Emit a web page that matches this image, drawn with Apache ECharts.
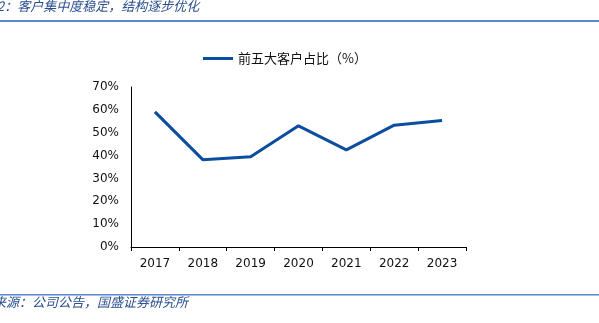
<!DOCTYPE html>
<html>
<head>
<meta charset="utf-8">
<script src="https://cdn.jsdelivr.net/npm/echarts@6/dist/echarts.min.js"></script>
<style>
  html, body { margin: 0; padding: 0; background: #fff; }
  #chart { width: 599px; height: 323px; }
</style>
</head>
<body>
<div id="chart"></div>
<script>
// Share of revenue from the five largest customers, by year
const years = ['2017', '2018', '2019', '2020', '2021', '2022', '2023'];
const top5Share = [59.1, 38.2, 39.5, 53.0, 42.5, 53.3, 55.3];
const yTicks = { min: 0, max: 70, interval: 10 };
const seriesName = '前五大客户占比（%）';
const titleText = '2：客户集中度稳定，结构逐步优化';
const sourceText = '来源：公司公告，国盛证券研究所';

const chart = echarts.init(document.getElementById('chart'), null, { renderer: 'canvas' });
const font = '"Noto Sans CJK SC", "Noto Sans", sans-serif';
const numFont = '"DejaVu Sans", sans-serif';
const ruleColor = '#5b86cf';
const noteColor = '#2a4f8f';

chart.setOption({
  animation: false,
  textStyle: { fontFamily: font },
  graphic: [
    { type: 'text', left: -3, top: 0, style: { text: titleText, fill: noteColor, font: 'italic 13px ' + font } },
    { type: 'rect', shape: { x: 0, y: 20, width: 599, height: 2 }, style: { fill: ruleColor } },
    { type: 'rect', shape: { x: 0, y: 294, width: 599, height: 1.5 }, style: { fill: ruleColor } },
    { type: 'text', left: -7, top: 296, style: { text: sourceText, fill: noteColor, font: 'italic 13px ' + font } }
  ],
  legend: {
    top: 47,
    left: 198,
    itemWidth: 30,
    itemHeight: 3,
    itemGap: 6,
    icon: 'rect',
    textStyle: { fontSize: 13, color: '#111', fontFamily: font },
    data: [seriesName]
  },
  grid: { left: 131, right: 133, top: 87, bottom: 76, containLabel: false },
  xAxis: {
    type: 'category',
    data: years,
    boundaryGap: true,
    axisLine: { lineStyle: { color: '#000', width: 1 } },
    axisTick: { show: true, alignWithLabel: false, length: 4, lineStyle: { color: '#000' } },
    axisLabel: { color: '#111', fontSize: 12, margin: 11, fontFamily: numFont }
  },
  yAxis: {
    type: 'value',
    min: yTicks.min,
    max: yTicks.max,
    interval: yTicks.interval,
    splitLine: { show: false },
    axisLine: { show: true, lineStyle: { color: '#000', width: 1 } },
    axisTick: { show: false },
    axisLabel: { color: '#111', fontSize: 12, margin: 12, fontFamily: numFont, formatter: v => v + '%' }
  },
  series: [{
    name: seriesName,
    type: 'line',
    data: top5Share,
    symbol: 'none',
    lineStyle: { color: '#0b4d9e', width: 3 },
    itemStyle: { color: '#0b4d9e' }
  }]
});
</script>
</body>
</html>
